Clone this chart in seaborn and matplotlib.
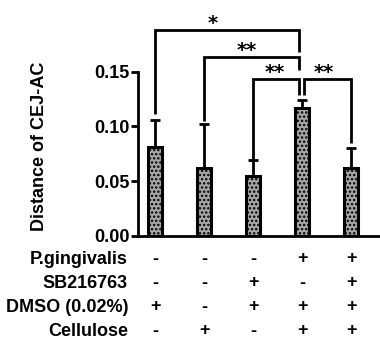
import matplotlib
matplotlib.use("Agg")
import matplotlib.pyplot as plt
import seaborn as sns
import pandas as pd

groups = ["G1", "G2", "G3", "G4", "G5"]
means = [0.081, 0.062, 0.055, 0.117, 0.062]
errs = [0.025, 0.040, 0.014, 0.007, 0.018]
row_labels = ["P.gingivalis", "SB216763", "DMSO (0.02%)", "Cellulose"]
row_signs = [
    ["-", "-", "-", "+", "+"],
    ["-", "-", "+", "-", "+"],
    ["+", "-", "+", "+", "+"],
    ["-", "+", "-", "+", "+"],
]
yticks = [0.00, 0.05, 0.10, 0.15]
# brackets: (x1, x2, y, y_left_end, y_right_end, label, label_x)
brackets = [
    (0, 2.94, 0.1885, 0.111, 0.168, "*", 1.17),
    (1, 2.94, 0.1638, 0.105, 0.152, "**", 1.88),
    (2, 2.94, 0.1436, 0.0695, 0.129, "**", 2.45),
    (3.04, 4, 0.1436, 0.129, 0.085, "**", 3.45),
]

sns.set_theme(style="white")
plt.rcParams["font.family"] = ["Liberation Sans", "DejaVu Sans"]
plt.rcParams["font.weight"] = "bold"
plt.rcParams["hatch.linewidth"] = 1.2
plt.rcParams["text.color"] = "black"
plt.rcParams["axes.labelcolor"] = "black"
plt.rcParams["ytick.color"] = "black"

fig = plt.figure(figsize=(3.8, 3.39), dpi=100)
ax = fig.add_axes([0.363, 0.304, 0.637, 0.646])

df = pd.DataFrame({"group": groups, "mean": means})
sns.barplot(data=df, x="group", y="mean", ax=ax, errorbar=None, width=0.27,
            color="#999999", edgecolor="black", linewidth=2.2, hatch="....")
for p in ax.patches:
    p.set_facecolor("#a8a8a8")
    p.set_edgecolor("black")

ax.errorbar(range(len(groups)), means, yerr=[[0] * len(errs), errs], fmt="none",
            ecolor="black", elinewidth=2, capsize=3.5, capthick=2)

for x1, x2, y, yl, yr, lab, lx in brackets:
    ax.plot([x1, x1, x2, x2], [yl, y, y, yr], color="black", lw=2,
            solid_capstyle="butt", solid_joinstyle="miter", clip_on=False)
    ax.annotate(lab, xy=(lx, y), xytext=(0, 0.5), textcoords="offset points",
                ha="center", va="baseline", fontsize=14, fontweight="bold",
                family="DejaVu Sans", annotation_clip=False)

ax.set_xlim(-0.35, 4.59)
ax.set_ylim(0, 0.2)
ax.set_yticks(yticks)
ax.set_yticklabels([f"{t:.2f}" for t in yticks], fontsize=13, fontweight="bold")
ax.set_xticks([])
ax.set_xlabel("")
ax.set_ylabel("Distance of CEJ-AC", fontsize=13, fontweight="bold")
ax.yaxis.set_label_coords(-0.372, 0.41)
for s in ["top", "right"]:
    ax.spines[s].set_visible(False)
for s in ["left", "bottom"]:
    ax.spines[s].set_linewidth(2)
    ax.spines[s].set_color("black")
ax.spines["left"].set_bounds(0, 0.15)
ax.tick_params(axis="y", direction="out", length=5, width=2, left=True, pad=1, color="black")

row_y = [259, 283, 307, 331]
for lab, signs, py in zip(row_labels, row_signs, row_y):
    yf = 1 - py / 339
    fig.text(128 / 380, yf, lab, ha="right", va="center", fontsize=13, fontweight="bold")
    for i, s in enumerate(signs):
        xd = ax.transData.transform((i, 0))[0]
        xf = fig.transFigure.inverted().transform((xd, 0))[0]
        fig.text(xf, yf, s, ha="center", va="center", fontsize=13, fontweight="bold")

fig.savefig("out.png", dpi=100)
